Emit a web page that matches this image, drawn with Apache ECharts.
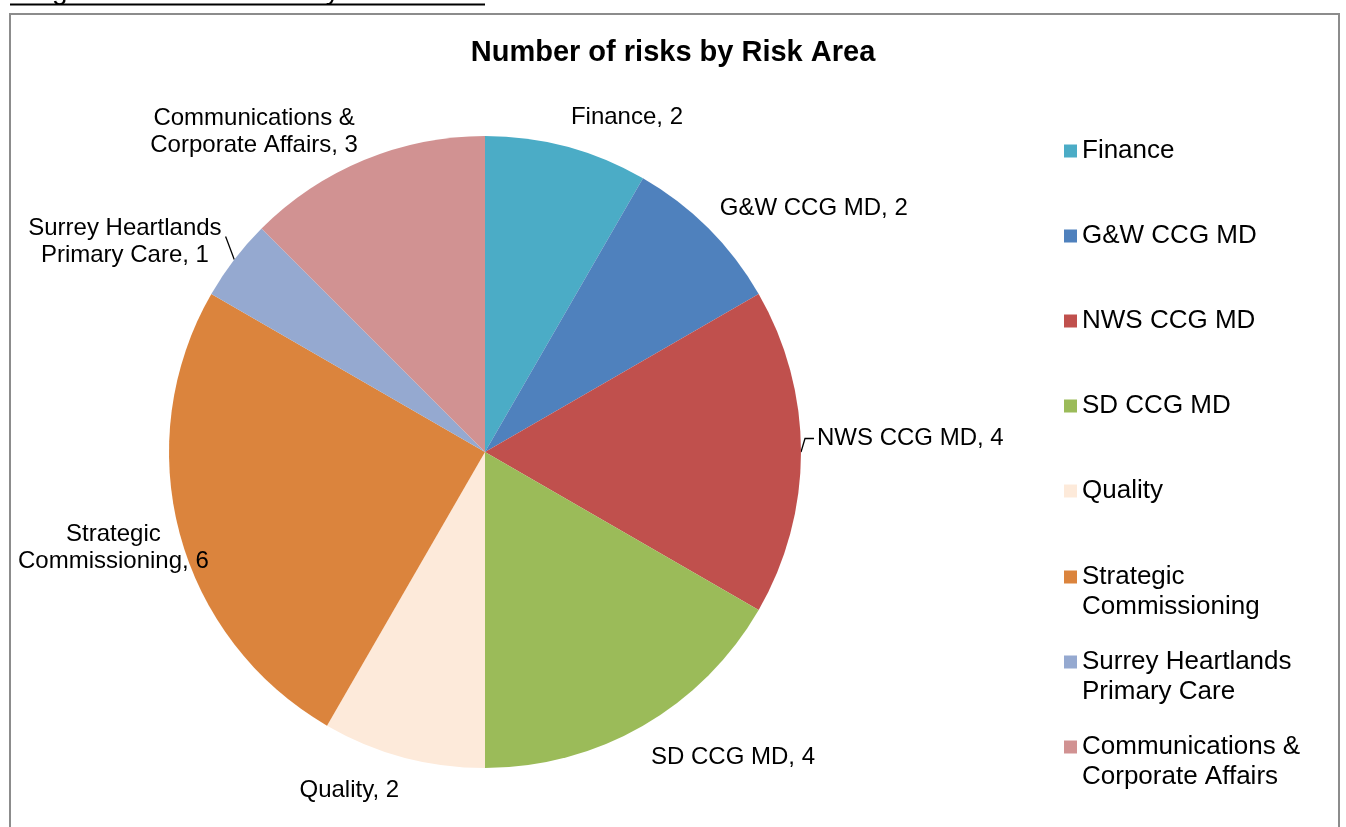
<!DOCTYPE html>
<html>
<head>
<meta charset="utf-8">
<script src="https://cdn.jsdelivr.net/npm/echarts@6/dist/echarts.min.js"></script>
<style>
  html, body { margin: 0; padding: 0; background: #fff; }
  #chart { width: 1346px; height: 827px; }
</style>
</head>
<body>
<div id="chart"></div>
<script>
// Risk areas and the number of risks logged against each
const categories = [
  'Finance',
  'G&W CCG MD',
  'NWS CCG MD',
  'SD CCG MD',
  'Quality',
  'Strategic\nCommissioning',
  'Surrey Heartlands\nPrimary Care',
  'Communications &\nCorporate Affairs'
];
const riskCounts = [2, 2, 4, 4, 2, 6, 1, 3];
const sliceColors = ['#4BACC6', '#4F81BD', '#C0504D', '#9BBB59', '#FDEADA', '#DB843D', '#95A9D0', '#D19292'];
const chartTitle = 'Number of risks by Risk Area';
const headingText = 'Diagram 1 - SBAF risks by Risk Area';

// Pie geometry (pixels)
const PIE_CX = 485, PIE_CY = 452, PIE_R = 316;
const LABEL_GAP = 16;
const FONT = '"Liberation Sans", Arial, Helvetica, sans-serif';

// Legend layout: one row slot per entry, swatch aligned with the first text line
const LEGEND_LEFT = 1064, LEGEND_TOP = 136, LEGEND_STEP = 85.1, LEGEND_LINE = 30;

// Labels that sit away from their slice and get a leader line
const withLeader = ['NWS CCG MD', 'Surrey Heartlands\nPrimary Care'];
// Small vertical nudges for individual data labels
const labelShift = {
  'G&W CCG MD': 5,
  'SD CCG MD': 4,
  'Quality': 4,
  'Strategic\nCommissioning': -17,
  'Surrey Heartlands\nPrimary Care': 19,
  'Communications &\nCorporate Affairs': 14
};

// Mid angle of each slice, clockwise from 12 o'clock
const total = riskCounts.reduce((a, b) => a + b, 0);
const midAngles = [];
let acc = 0;
riskCounts.forEach(v => { midAngles.push((acc + v / 2) / total * 2 * Math.PI); acc += v; });

// Place each label box so its corner nearest the pie sits just outside the slice's mid-point
function placeLabel(params) {
  const i = params.dataIndex;
  const a = midAngles[i];
  const dx = Math.sin(a), dy = -Math.cos(a);
  const ex = PIE_CX + PIE_R * dx, ey = PIE_CY + PIE_R * dy;
  const px = PIE_CX + (PIE_R + LABEL_GAP) * dx, py = PIE_CY + (PIE_R + LABEL_GAP) * dy;
  const w = params.labelRect.width, h = params.labelRect.height;
  let left = dx >= -1e-9 ? px : px - w;
  let top = dy <= 1e-9 ? py - h : py;
  left = Math.max(left, 18);
  top += labelShift[categories[i]] || 0;
  const out = { x: left + w / 2, y: top, align: 'center', verticalAlign: 'top' };
  if (withLeader.includes(categories[i])) {
    if (dx >= 0) {
      const endY = top + h / 2;
      out.labelLinePoints = [[ex, ey], [ex + 4, endY], [left - 3, endY]];
    } else {
      const end = [left + w + 4, top + h * 0.4];
      out.labelLinePoints = [[ex, ey], end, end];
    }
  }
  return out;
}

// One legend block per entry; wrapped names keep their swatch on the first line
const legends = categories.map((name, k) => {
  const extraLines = name.split('\n').length - 1;
  const item = extraLines
    ? { name, textStyle: { padding: [0, 0, -LEGEND_LINE * extraLines, 0] } }
    : { name };
  return {
    orient: 'vertical',
    left: LEGEND_LEFT,
    top: Math.round(LEGEND_TOP + LEGEND_STEP * k),
    padding: 0,
    itemWidth: 13,
    itemHeight: 13,
    icon: 'rect',
    selectedMode: false,
    data: [item],
    textStyle: {
      fontFamily: FONT, fontSize: 26, color: '#000', lineHeight: LEGEND_LINE,
      rich: { t: { fontFamily: FONT, fontSize: 26, lineHeight: LEGEND_LINE } }
    }
  };
});

const chart = echarts.init(document.getElementById('chart'), null, { renderer: 'canvas' });

chart.setOption({
  animation: false,
  backgroundColor: '#fff',
  title: {
    text: chartTitle,
    left: 'center',
    top: 38,
    padding: 0,
    textStyle: { fontFamily: FONT, fontSize: 29, fontWeight: 'bold', color: '#000' }
  },
  legend: legends,
  graphic: [
    {
      type: 'rect',
      silent: true,
      z: -1,
      shape: { x: 10, y: 14, width: 1329, height: 840 },
      style: { fill: 'none', stroke: '#8c8c8c', lineWidth: 2 }
    },
    {
      type: 'text',
      silent: true,
      x: 10,
      y: -9,
      style: { text: headingText, font: '28px ' + FONT, fill: '#000', verticalAlign: 'middle' }
    },
    {
      type: 'line',
      silent: true,
      shape: { x1: 10, y1: 4.5, x2: 485, y2: 4.5 },
      style: { stroke: '#000', lineWidth: 2 }
    }
  ],
  series: [{
    type: 'pie',
    center: [PIE_CX, PIE_CY],
    radius: PIE_R,
    startAngle: 90,
    clockwise: true,
    avoidLabelOverlap: false,
    itemStyle: { borderWidth: 0 },
    label: {
      show: true,
      position: 'outside',
      formatter: '{b}, {c}',
      fontFamily: FONT,
      fontSize: 24,
      lineHeight: 27,
      color: '#000'
    },
    labelLine: { show: false, lineStyle: { color: '#000', width: 1.3 } },
    labelLayout: placeLabel,
    emphasis: { disabled: true },
    data: categories.map((name, i) => ({
      name,
      value: riskCounts[i],
      itemStyle: { color: sliceColors[i] },
      labelLine: { show: withLeader.includes(name) }
    }))
  }]
});
</script>
</body>
</html>
